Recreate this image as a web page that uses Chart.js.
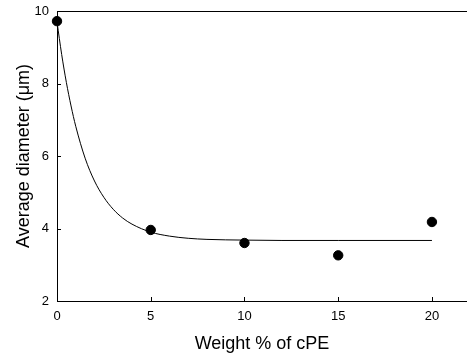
<!DOCTYPE html>
<html>
<head>
<meta charset="utf-8">
<script src="https://cdn.jsdelivr.net/npm/chart.js@4/dist/chart.umd.min.js"></script>
<style>
  html, body { margin: 0; padding: 0; background: #fff; }
  #wrap { width: 467px; height: 360px; }
</style>
</head>
<body>
<div id="wrap"><canvas id="chart" width="467" height="360"></canvas></div>
<script>
// measured particle sizes
const weightPct = [0, 5, 10, 15, 20];
const avgDiameter = [9.72, 3.96, 3.6, 3.26, 4.18];

// fitted decay curve
const fitX = [0, 0.25, 0.5, 0.75, 1, 1.5, 2, 2.5, 3, 3.5, 4, 5, 6, 7, 8, 10, 12, 15, 20];
const fitY = [9.7, 8.8, 8.03, 7.38, 6.82, 5.94, 5.31, 4.86, 4.53, 4.29, 4.12, 3.9, 3.79, 3.73, 3.7, 3.68, 3.67, 3.67, 3.67];

const xTicks = [0, 5, 10, 15, 20];
const yTicks = [2, 4, 6, 8, 10];

const FONT = "'Liberation Sans', Arial, sans-serif";

// inward tick marks and the top frame line
const frame = {
  id: "frame",
  afterDraw(chart) {
    const ctx = chart.ctx;
    const a = chart.chartArea;
    const xs = chart.scales.x;
    const ys = chart.scales.y;
    ctx.save();
    ctx.strokeStyle = "#000";
    ctx.lineWidth = 1;
    ctx.beginPath();
    ctx.moveTo(a.left, a.top + 0.5);
    ctx.lineTo(a.right, a.top + 0.5);
    xTicks.forEach(v => {
      const px = Math.round(xs.getPixelForValue(v)) + 0.5;
      if (v === xs.min) return;
      ctx.moveTo(px, a.bottom);
      ctx.lineTo(px, a.bottom - 4);
    });
    yTicks.forEach(v => {
      const py = Math.round(ys.getPixelForValue(v)) + 0.5;
      if (v === ys.min || v === ys.max) return;
      ctx.moveTo(a.left, py);
      ctx.lineTo(a.left + 4, py);
    });
    ctx.stroke();
    ctx.restore();
  }
};

new Chart(document.getElementById("chart"), {
  type: "scatter",
  data: {
    datasets: [
      {
        type: "line",
        data: fitX.map((x, i) => ({ x: x, y: fitY[i] })),
        borderColor: "#000",
        borderWidth: 1,
        pointRadius: 0,
        cubicInterpolationMode: "monotone",
        fill: false,
        clip: false
      },
      {
        data: weightPct.map((x, i) => ({ x: x, y: avgDiameter[i] })),
        backgroundColor: "#000",
        borderColor: "#000",
        pointRadius: 4.7,
        clip: false
      }
    ]
  },
  options: {
    responsive: false,
    animation: false,
    layout: { autoPadding: false, padding: { top: 11, right: 0, left: 0, bottom: 0 } },
    plugins: {
      legend: { display: false },
      tooltip: { enabled: false }
    },
    scales: {
      x: {
        type: "linear",
        min: 0,
        max: 21.87,
        afterBuildTicks: axis => { axis.ticks = xTicks.map(v => ({ value: v })); },
        afterFit: axis => {
          axis.height = 59;
          axis.paddingLeft = 0;
          axis.paddingRight = 0;
        },
        border: { display: true, color: "#000", width: 1 },
        grid: { display: false, drawTicks: false },
        ticks: { color: "#000", padding: 8, maxRotation: 0, font: { family: FONT, size: 13 } },
        title: {
          display: true,
          text: "Weight % of cPE",
          color: "#000",
          padding: { top: 5, bottom: 5 },
          font: { family: FONT, size: 18 }
        }
      },
      y: {
        min: 2,
        max: 10,
        afterBuildTicks: axis => { axis.ticks = yTicks.map(v => ({ value: v })); },
        afterFit: axis => {
          axis.width = 57;
          axis.paddingTop = 0;
          axis.paddingBottom = 0;
        },
        border: { display: true, color: "#000", width: 1 },
        grid: { display: false, drawTicks: false },
        ticks: { color: "#000", padding: 8, font: { family: FONT, size: 13 } },
        title: {
          display: true,
          text: "Average diameter (μm)",
          color: "#000",
          padding: { top: 13, bottom: 0 },
          font: { family: FONT, size: 18 }
        }
      }
    }
  },
  plugins: [frame]
});
</script>
</body>
</html>
